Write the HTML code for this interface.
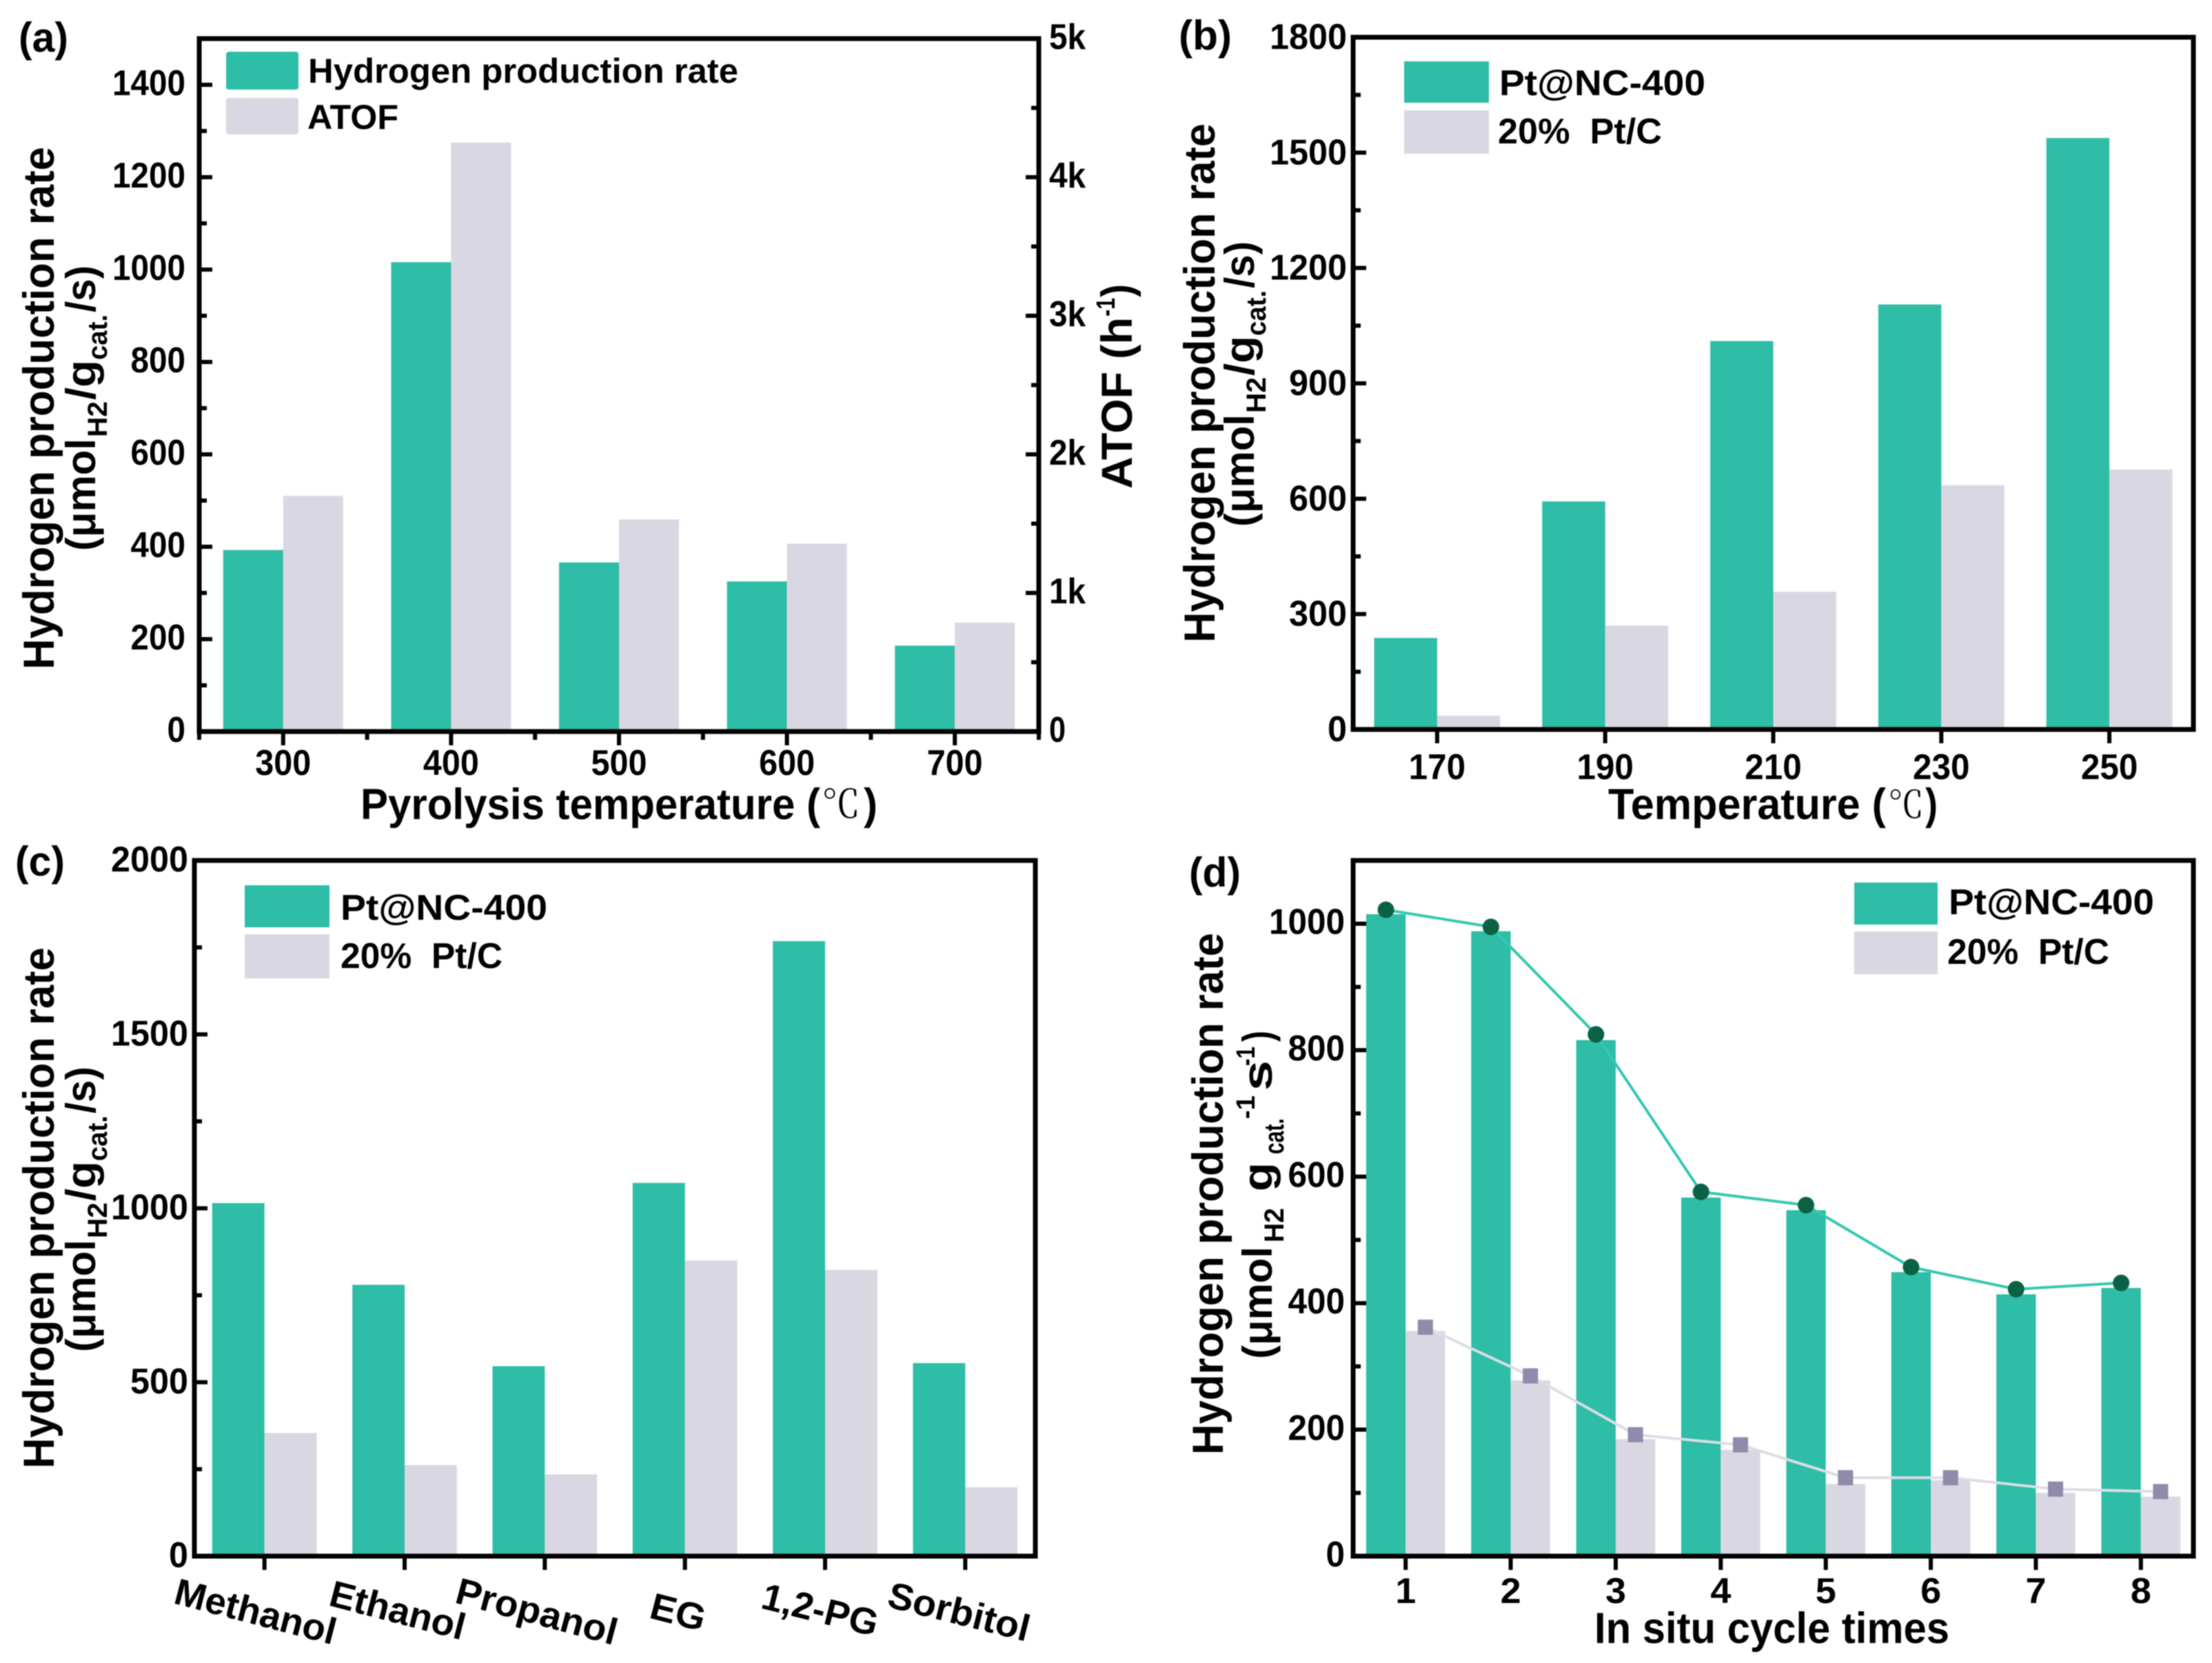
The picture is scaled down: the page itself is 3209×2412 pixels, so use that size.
<!DOCTYPE html>
<html lang="en">
<head>
<meta charset="utf-8">
<title>Hydrogen production rate charts</title>
<style>
html,body{margin:0;padding:0;background:#fff;}
svg{display:block;filter:blur(0.7px);}
text{font-family:"Liberation Sans","Noto Sans CJK SC",sans-serif;font-weight:700;fill:#000;}
.serif{font-family:"Noto Serif CJK SC","Liberation Serif",serif;font-weight:400;}
</style>
</head>
<body>
<svg id="figure" xmlns="http://www.w3.org/2000/svg" width="3209" height="2412" viewBox="0 0 3209 2412">
<rect x="0" y="0" width="3209" height="2412" fill="#fff"/>

<g id="panel-a"></g>
<g id="panel-b"></g>
<g id="panel-c"></g>
<g id="panel-d"></g>

<!-- Panel letters -->
<text x="27" y="75" font-size="60" textLength="72" lengthAdjust="spacingAndGlyphs">(a)</text>
<text x="1710" y="72" font-size="60" textLength="77" lengthAdjust="spacingAndGlyphs">(b)</text>
<text x="22" y="1270" font-size="60" textLength="72" lengthAdjust="spacingAndGlyphs">(c)</text>
<text x="1725" y="1286" font-size="60" textLength="75" lengthAdjust="spacingAndGlyphs">(d)</text>

<!-- Panel a titles -->
<g>
<text transform="translate(78,971) rotate(-90)" font-size="63" textLength="758" lengthAdjust="spacingAndGlyphs">Hydrogen production rate</text>
<text transform="translate(138,799) rotate(-90)" font-size="60" textLength="163" lengthAdjust="spacingAndGlyphs">(μmol</text>
<text transform="translate(155,634) rotate(-90)" font-size="40" textLength="52" lengthAdjust="spacingAndGlyphs">H2</text>
<text transform="translate(138,580) rotate(-90)" font-size="60" textLength="58" lengthAdjust="spacingAndGlyphs">/g</text>
<text transform="translate(155,522) rotate(-90)" font-size="40" textLength="66" lengthAdjust="spacingAndGlyphs">cat.</text>
<text transform="translate(138,453) rotate(-90)" font-size="60" textLength="68" lengthAdjust="spacingAndGlyphs">/s)</text>
</g>
<g>
<text transform="translate(1642,709) rotate(-90)" font-size="63" textLength="249" lengthAdjust="spacingAndGlyphs">ATOF (h</text>
<text transform="translate(1617,459) rotate(-90)" font-size="38" textLength="27" lengthAdjust="spacingAndGlyphs">-1</text>
<text transform="translate(1642,431) rotate(-90)" font-size="63" textLength="19" lengthAdjust="spacingAndGlyphs">)</text>
</g>
<g>
<text x="523" y="1188" font-size="63" textLength="667" lengthAdjust="spacingAndGlyphs">Pyrolysis temperature (</text>
<text class="serif" x="1192" y="1186" font-size="56" textLength="56" lengthAdjust="spacingAndGlyphs">℃</text>
<text x="1253" y="1188" font-size="63" textLength="20" lengthAdjust="spacingAndGlyphs">)</text>
</g>

<!-- Panel a legend -->
<g>
<rect x="328" y="75" width="105" height="55" rx="4" fill="#2EBDA6"/>
<rect x="328" y="142" width="105" height="53" rx="4" fill="#D9D7E2"/>
<text x="447" y="120" font-size="50" textLength="624" lengthAdjust="spacingAndGlyphs">Hydrogen production rate</text>
<text x="446" y="187" font-size="50" textLength="132" lengthAdjust="spacingAndGlyphs">ATOF</text>
</g>

<!-- Panel b titles -->
<g>
<text transform="translate(1762,932) rotate(-90)" font-size="63" textLength="753" lengthAdjust="spacingAndGlyphs">Hydrogen production rate</text>
<text transform="translate(1819,764) rotate(-90)" font-size="60" textLength="163" lengthAdjust="spacingAndGlyphs">(μmol</text>
<text transform="translate(1836,599) rotate(-90)" font-size="40" textLength="52" lengthAdjust="spacingAndGlyphs">H2</text>
<text transform="translate(1819,545) rotate(-90)" font-size="60" textLength="58" lengthAdjust="spacingAndGlyphs">/g</text>
<text transform="translate(1836,487) rotate(-90)" font-size="40" textLength="66" lengthAdjust="spacingAndGlyphs">cat.</text>
<text transform="translate(1819,418) rotate(-90)" font-size="60" textLength="68" lengthAdjust="spacingAndGlyphs">/s)</text>
</g>
<g>
<text x="2333" y="1188" font-size="63" textLength="403" lengthAdjust="spacingAndGlyphs">Temperature (</text>
<text class="serif" x="2739" y="1186" font-size="54" textLength="52" lengthAdjust="spacingAndGlyphs">℃</text>
<text x="2793" y="1188" font-size="63" textLength="18" lengthAdjust="spacingAndGlyphs">)</text>
</g>

<!-- Panel b legend -->
<g>
<rect x="2037" y="89" width="123" height="60" fill="#2EBDA6"/>
<rect x="2037" y="160" width="123" height="63" fill="#D9D7E2"/>
<text x="2175" y="138" font-size="52" textLength="299" lengthAdjust="spacingAndGlyphs">Pt@NC-400</text>
<text x="2173" y="208" font-size="52" textLength="238" lengthAdjust="spacingAndGlyphs">20%&#160;&#160;Pt/C</text>
</g>

<!-- Panel c titles -->
<g>
<text transform="translate(78,2130) rotate(-90)" font-size="63" textLength="756" lengthAdjust="spacingAndGlyphs">Hydrogen production rate</text>
<text transform="translate(138,1961) rotate(-90)" font-size="60" textLength="163" lengthAdjust="spacingAndGlyphs">(μmol</text>
<text transform="translate(155,1796) rotate(-90)" font-size="40" textLength="52" lengthAdjust="spacingAndGlyphs">H2</text>
<text transform="translate(138,1742) rotate(-90)" font-size="60" textLength="58" lengthAdjust="spacingAndGlyphs">/g</text>
<text transform="translate(155,1684) rotate(-90)" font-size="40" textLength="66" lengthAdjust="spacingAndGlyphs">cat.</text>
<text transform="translate(138,1615) rotate(-90)" font-size="60" textLength="68" lengthAdjust="spacingAndGlyphs">/s)</text>
</g>

<!-- Panel c rotated category labels -->
<g>
<text transform="translate(250,2325) rotate(14.6)" font-size="54" textLength="240" lengthAdjust="spacingAndGlyphs">Methanol</text>
<text transform="translate(475,2328) rotate(14.6)" font-size="54" textLength="201" lengthAdjust="spacingAndGlyphs">Ethanol</text>
<text transform="translate(658,2324) rotate(15)" font-size="54" textLength="240" lengthAdjust="spacingAndGlyphs">Propanol</text>
<text transform="translate(940,2346) rotate(14.6)" font-size="54" textLength="81" lengthAdjust="spacingAndGlyphs">EG</text>
<text transform="translate(1102,2332) rotate(14)" font-size="54" textLength="172" lengthAdjust="spacingAndGlyphs">1,2-PG</text>
<text transform="translate(1285,2330) rotate(14)" font-size="54" textLength="210" lengthAdjust="spacingAndGlyphs">Sorbitol</text>
</g>

<!-- Panel c legend -->
<g>
<rect x="355" y="1284" width="123" height="61" fill="#2EBDA6"/>
<rect x="355" y="1355" width="123" height="64" fill="#D9D7E2"/>
<text x="494" y="1334" font-size="52" textLength="300" lengthAdjust="spacingAndGlyphs">Pt@NC-400</text>
<text x="494" y="1404" font-size="52" textLength="235" lengthAdjust="spacingAndGlyphs">20%&#160;&#160;Pt/C</text>
</g>

<!-- Panel d titles -->
<g>
<text transform="translate(1774,2110) rotate(-90)" font-size="63" textLength="757" lengthAdjust="spacingAndGlyphs">Hydrogen production rate</text>
<text transform="translate(1845,1971) rotate(-90)" font-size="60" textLength="163" lengthAdjust="spacingAndGlyphs">(μmol</text>
<text transform="translate(1862,1802) rotate(-90)" font-size="40" textLength="50" lengthAdjust="spacingAndGlyphs">H2</text>
<text transform="translate(1845,1728) rotate(-90)" font-size="60" textLength="42" lengthAdjust="spacingAndGlyphs">g</text>
<text transform="translate(1862,1674) rotate(-90)" font-size="40" textLength="52" lengthAdjust="spacingAndGlyphs">cat.</text>
<text transform="translate(1820,1623) rotate(-90)" font-size="38" textLength="34" lengthAdjust="spacingAndGlyphs">-1</text>
<text transform="translate(1845,1582) rotate(-90)" font-size="60" textLength="44" lengthAdjust="spacingAndGlyphs">s</text>
<text transform="translate(1820,1546) rotate(-90)" font-size="38" textLength="28" lengthAdjust="spacingAndGlyphs">-1</text>
<text transform="translate(1845,1511) rotate(-90)" font-size="60" textLength="16" lengthAdjust="spacingAndGlyphs">)</text>
</g>
<text x="2313" y="2383" font-size="63" textLength="515" lengthAdjust="spacingAndGlyphs">In situ cycle times</text>

<!-- Panel d legend -->
<g>
<rect x="2690" y="1280" width="121" height="61" fill="#2EBDA6"/>
<rect x="2690" y="1351" width="121" height="62" fill="#D9D7E2"/>
<text x="2827" y="1326" font-size="52" textLength="298" lengthAdjust="spacingAndGlyphs">Pt@NC-400</text>
<text x="2825" y="1398" font-size="52" textLength="235" lengthAdjust="spacingAndGlyphs">20%&#160;&#160;Pt/C</text>
</g>
</svg>

<script>
/* Panel a data */
const aCategories = ['300', '400', '500', '600', '700'];
const aRate = [393, 1016, 366, 325, 186];
const aAtof = [1700, 4250, 1530, 1355, 785];
const aYTicks = [0, 200, 400, 600, 800, 1000, 1200, 1400];
const aY2Ticks = [0, 1000, 2000, 3000, 4000, 5000];
const aY2Labels = ['0', '1k', '2k', '3k', '4k', '5k'];

/* Panel b data */
const bCategories = ['170', '190', '210', '230', '250'];
const bPtNc = [238, 593, 1010, 1105, 1538];
const bPtC = [36, 270, 358, 635, 676];
const bYTicks = [0, 300, 600, 900, 1200, 1500, 1800];

/* Panel c data */
const cCategories = ['Methanol', 'Ethanol', 'Propanol', 'EG', '1,2-PG', 'Sorbitol'];
const cPtNc = [1015, 780, 546, 1073, 1768, 555];
const cPtC = [354, 262, 235, 850, 823, 198];
const cYTicks = [0, 500, 1000, 1500, 2000];

/* Panel d data */
const dCategories = ['1', '2', '3', '4', '5', '6', '7', '8'];
const dPtNc = [1015, 988, 816, 567, 547, 449, 414, 424];
const dPtC = [356, 278, 185, 168, 114, 120, 100, 94];
const dLinePtNc = [1022, 995, 825, 576, 555, 457, 422, 432];
const dLinePtC = [362, 285, 192, 176, 124, 124, 106, 102];
const dYTicks = [0, 200, 400, 600, 800, 1000];

const SVG_NS = 'http://www.w3.org/2000/svg';
const GREEN = '#2EBDA6';
const GREY = '#D9D7E2';

function addEl(parent, tag, attrs, name) {
  const el = document.createElementNS(SVG_NS, tag);
  for (const key in attrs) el.setAttribute(key, attrs[key]);
  
  
  parent.appendChild(el);
  return el;
}

function addText(parent, content, attrs, name) {
  const el = addEl(parent, 'text', attrs, name);
  el.setAttribute('lengthAdjust', 'spacingAndGlyphs');
  el.textContent = content;
  return el;
}

function linearAxis(domainMax, rangeZero, rangeMax) {
  return function (v) { return rangeZero - (v / domainMax) * (rangeZero - rangeMax); };
}

function bandAxis(count, left, right) {
  const step = (right - left) / count;
  const fn = function (i) { return left + (i + 0.5) * step; };
  fn.step = step;
  return fn;
}

function drawPanel(cfg) {
  const g = document.getElementById(cfg.id);
  const p = cfg.id;
  const y = linearAxis(cfg.yMax, cfg.bottom, cfg.top);
  const x = bandAxis(cfg.categories.length, cfg.left, cfg.right);
  const barW = x.step * cfg.barFrac;

  /* bars */
  cfg.categories.forEach(function (cat, i) {
    const v1 = cfg.series1[i];
    addEl(g, 'rect', { x: x(i) - barW, y: y(v1), width: barW, height: cfg.bottom - y(v1), fill: GREEN }, p + '-bar-series1-' + cat);
    const v2 = cfg.series2[i];
    const y2 = cfg.series2Axis ? cfg.series2Axis(v2) : y(v2);
    addEl(g, 'rect', { x: x(i), y: y2, width: barW, height: cfg.bottom - y2, fill: GREY }, p + '-bar-series2-' + cat);
  });

  /* plot frame */
  addEl(g, 'rect', { x: cfg.left, y: cfg.top, width: cfg.right - cfg.left, height: cfg.bottom - cfg.top, fill: 'none', stroke: '#000', 'stroke-width': 7 }, p + '-plot-frame');

  /* left y axis ticks and labels */
  const tickStep = cfg.yTicks[1] - cfg.yTicks[0];
  cfg.yTicks.forEach(function (v) {
    addEl(g, 'line', { x1: cfg.left, x2: cfg.left + 19, y1: y(v), y2: y(v), stroke: '#000', 'stroke-width': 6 }, p + '-y-tick-' + v);
    const label = String(v);
    addText(g, label, { x: cfg.labelRight, y: y(v) + cfg.labelDy, 'font-size': 52, 'text-anchor': 'end', textLength: label.length * cfg.digitW }, p + '-y-tick-label-' + v);
    const minor = v + tickStep / 2;
    if (minor < cfg.yMax) {
      addEl(g, 'line', { x1: cfg.left, x2: cfg.left + 11, y1: y(minor), y2: y(minor), stroke: '#000', 'stroke-width': 6 }, p + '-y-minor-tick-' + minor);
    }
  });

  /* x axis ticks and labels */
  cfg.categories.forEach(function (cat, i) {
    addEl(g, 'line', { x1: x(i), x2: x(i), y1: cfg.bottom, y2: cfg.bottom + 20, stroke: '#000', 'stroke-width': 6 }, p + '-x-tick-' + cat);
    if (cfg.xLabelY) {
      addText(g, cat, { x: x(i), y: cfg.xLabelY, 'font-size': 52, 'text-anchor': 'middle', textLength: cat.length * cfg.xDigitW }, p + '-x-tick-label-' + cat);
    }
  });
  if (cfg.xMinor) {
    for (let i = 0; i <= cfg.categories.length; i++) {
      const xm = cfg.left + i * x.step;
      addEl(g, 'line', { x1: xm, x2: xm, y1: cfg.bottom, y2: cfg.bottom + 12, stroke: '#000', 'stroke-width': 6 }, p + '-x-minor-tick-' + i);
    }
  }
  return { g: g, x: x, y: y, barW: barW };
}

/* Panel a */
const aRightAxis = linearAxis(5000, 1061, 56);
const panelA = drawPanel({
  id: 'panel-a', left: 289, right: 1507, top: 56, bottom: 1061, yMax: 1500,
  categories: aCategories, series1: aRate, series2: aAtof, series2Axis: aRightAxis,
  yTicks: aYTicks, barFrac: 0.357, labelRight: 269, labelDy: 15, digitW: 26.5,
  xLabelY: 1124, xDigitW: 27, xMinor: true
});
aY2Ticks.forEach(function (v, i) {
  const yy = aRightAxis(v);
  addEl(panelA.g, 'line', { x1: 1507, x2: 1488, y1: yy, y2: yy, stroke: '#000', 'stroke-width': 6 }, 'panel-a-right-y-tick-' + v);
  const label = aY2Labels[i];
  addText(panelA.g, label, { x: 1522, y: yy + 15, 'font-size': 52, textLength: label.length === 1 ? 24 : 53 }, 'panel-a-right-y-tick-label-' + label);
  if (v < 5000) {
    const minor = v + 500;
    addEl(panelA.g, 'line', { x1: 1507, x2: 1496, y1: aRightAxis(minor), y2: aRightAxis(minor), stroke: '#000', 'stroke-width': 6 }, 'panel-a-right-y-minor-tick-' + minor);
  }
});

/* Panel b */
drawPanel({
  id: 'panel-b', left: 1963, right: 3182, top: 54, bottom: 1058, yMax: 1800,
  categories: bCategories, series1: bPtNc, series2: bPtC,
  yTicks: bYTicks, barFrac: 0.375, labelRight: 1954, labelDy: 17, digitW: 28,
  xLabelY: 1130, xDigitW: 27.5, xMinor: false
});

/* Panel c */
drawPanel({
  id: 'panel-c', left: 282, right: 1502, top: 1248, bottom: 2257, yMax: 2000,
  categories: cCategories, series1: cPtNc, series2: cPtC,
  yTicks: cYTicks, barFrac: 0.373, labelRight: 273, labelDy: 16, digitW: 28,
  xMinor: false
});

/* Panel d */
const panelD = drawPanel({
  id: 'panel-d', left: 1963, right: 3182, top: 1248, bottom: 2257, yMax: 1100,
  categories: dCategories, series1: dPtNc, series2: dPtC,
  yTicks: dYTicks, barFrac: 0.376, labelRight: 1951, labelDy: 15, digitW: 27.5,
  xLabelY: 2325, xDigitW: 30, xMinor: false
});

function linePoints(values, offset) {
  return values.map(function (v, i) {
    return (panelD.x(i) + offset) + ',' + panelD.y(v);
  }).join(' ');
}

addEl(panelD.g, 'polyline', { points: linePoints(dLinePtNc, -panelD.barW / 2), fill: 'none', stroke: '#35C7B0', 'stroke-width': 4 }, 'panel-d-line-pt-nc');
addEl(panelD.g, 'polyline', { points: linePoints(dLinePtC, panelD.barW / 2), fill: 'none', stroke: '#DEDCE6', 'stroke-width': 4 }, 'panel-d-line-pt-c');

dLinePtNc.forEach(function (v, i) {
  addEl(panelD.g, 'circle', { cx: panelD.x(i) - panelD.barW / 2, cy: panelD.y(v), r: 12, fill: '#0B6144' }, 'panel-d-point-pt-nc-' + dCategories[i]);
});
dLinePtC.forEach(function (v, i) {
  addEl(panelD.g, 'rect', { x: panelD.x(i) + panelD.barW / 2 - 11, y: panelD.y(v) - 11, width: 22, height: 22, fill: '#8F8BAB' }, 'panel-d-point-pt-c-' + dCategories[i]);
});
</script>
</body>
</html>
